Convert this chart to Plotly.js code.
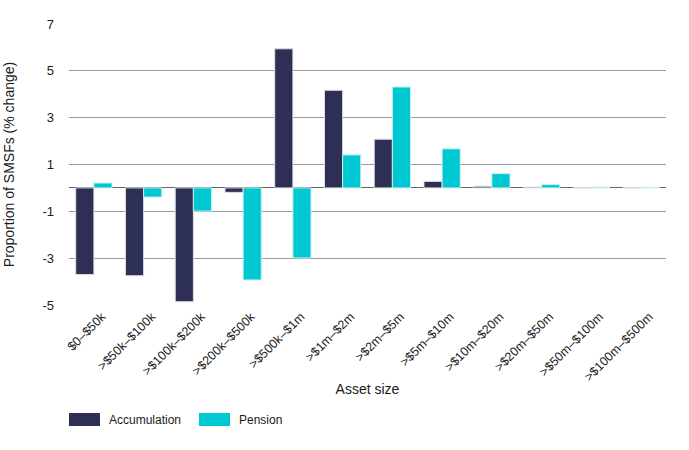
<!DOCTYPE html>
<html>
<head>
<meta charset="utf-8">
<script src="https://cdn.plot.ly/plotly-3.0.1.min.js"></script>
<style>html,body{margin:0;padding:0;background:#fff;}#chart{width:689px;height:450px;}</style>
</head>
<body>
<div id="chart"></div>
<script>
var categories = ["$0–$50k", ">$50k–$100k", ">$100k–$200k", ">$200k–$500k", ">$500k–$1m", ">$1m–$2m", ">$2m–$5m", ">$5m–$10m", ">$10m–$20m", ">$20m–$50m", ">$50m–$100m", ">$100m–$500m"];
var accumulation = [-3.70, -3.75, -4.86, -0.19, 5.94, 4.17, 2.08, 0.28, 0.07, 0.03, 0.01, 0.01];
var pension = [0.21, -0.39, -0.99, -3.93, -2.99, 1.41, 4.31, 1.67, 0.61, 0.14, 0.03, 0.02];
var yTicks = [-5, -3, -1, 1, 3, 5, 7];

var font = "'Liberation Sans', Arial, sans-serif";
var txt = '#1a1a1a';
var traces = [
  {type: 'bar', name: 'Accumulation', x: categories, y: accumulation,
   marker: {color: '#2d3054', line: {color: '#dcdde6', width: 1}}},
  {type: 'bar', name: 'Pension', x: categories, y: pension,
   marker: {color: '#00c8d2', line: {color: '#c8f0f2', width: 1}}}
];
var layout = {
  width: 689, height: 450,
  margin: {l: 69, r: 23, t: 24, b: 145},
  paper_bgcolor: '#fff', plot_bgcolor: '#fff',
  barmode: 'group', bargap: 0.27, bargroupgap: 0,
  font: {family: font, size: 12, color: txt},
  xaxis: {
    automargin: false,
    tickangle: -45, tickfont: {family: font, size: 12.5, color: txt},
    ticklabelshift: 8, ticklabelstandoff: 1,
    showgrid: false, showline: false, ticks: '',
    title: {text: 'Asset size', font: {family: font, size: 14, color: txt}, standoff: 1}
  },
  yaxis: {
    automargin: false,
    range: [-5, 7], tickvals: yTicks, ticktext: yTicks.map(String),
    showgrid: true, gridcolor: '#9a9a9a', gridwidth: 1,
    zeroline: true, zerolinecolor: '#666', zerolinewidth: 1,
    tickfont: {family: font, size: 13, color: txt},
    ticks: '', ticklabelstandoff: 14,
    title: {text: 'Proportion of SMSFs (% change)', font: {family: font, size: 14, color: txt}, standoff: 24}
  },
  legend: {orientation: 'h', x: 0, xanchor: 'left', y: -0.4075, yanchor: 'middle',
    font: {family: font, size: 12, color: txt}, itemwidth: 30, entrywidth: 85, traceorder: 'normal'},
  showlegend: true
};
Plotly.newPlot('chart', traces, layout, {displayModeBar: false, staticPlot: true}).then(function () {
  document.querySelectorAll('.legend .legendpoints path').forEach(function (p) {
    p.setAttribute('d', 'M-20,6.5H11V-6.5H-20Z');
    p.style.strokeWidth = '0px';
  });
});
</script>
</body>
</html>
